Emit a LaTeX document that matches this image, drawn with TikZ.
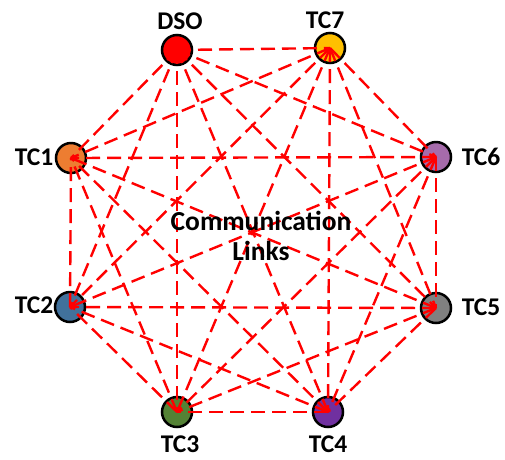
\documentclass[tikz,border=0pt]{standalone}
\usepackage{fontspec}
\setmainfont{Carlito}
\begin{document}
\begin{tikzpicture}[x=1pt,y=-1pt,
  agent/.style={circle, draw=black, line width=2.5pt, minimum size=30pt, inner sep=0pt},
  link/.style={draw=red, line width=2.4pt, dash pattern=on 14pt off 7pt},
  lbl/.style={font=\bfseries\fontsize{25.5}{28}\selectfont, text=black, inner sep=0pt}]
\useasboundingbox (0,0) rectangle (505,459);
% agents on the octagon
\node[agent, fill=red]                (dso) at (177,50) {};
\node[agent, fill={rgb,255:red,255;green,192;blue,0}]   (tc7) at (330,48) {};
\node[agent, fill={rgb,255:red,166;green,107;blue,171}] (tc6) at (436,157) {};
\node[agent, fill={rgb,255:red,128;green,128;blue,128}] (tc5) at (436,308) {};
\node[agent, fill={rgb,255:red,112;green,48;blue,160}]  (tc4) at (328,412) {};
\node[agent, fill={rgb,255:red,84;green,130;blue,53}]   (tc3) at (177,412) {};
\node[agent, fill={rgb,255:red,65;green,113;blue,156}]  (tc2) at (70,307) {};
\node[agent, fill={rgb,255:red,237;green,125;blue,49}]  (tc1) at (71,158) {};
% every agent linked to every other
\foreach \a [count=\i] in {dso,tc7,tc6,tc5,tc4,tc3,tc2,tc1}{
  \foreach \b [count=\j] in {dso,tc7,tc6,tc5,tc4,tc3,tc2,tc1}{
    \ifnum\j>\i \draw[link] (\a.center) -- (\b.center);\fi
  }
}
% labels
\node[lbl] (ldso) at (180,21) {DSO};
\node[lbl] (ltc7) at (325,20) {TC7};
\node[lbl] (ltc6) at (481,157) {TC6};
\node[lbl] (ltc5) at (481,307) {TC5};
\node[lbl] (ltc4) at (328,444) {TC4};
\node[lbl] (ltc3) at (180,444) {TC3};
\node[lbl] (ltc2) at (34,305) {TC2};
\node[lbl] (ltc1) at (34,157) {TC1};
\node[lbl, font=\bfseries\fontsize{27.5}{30}\selectfont, align=center] (comm) at (261,236) {Communication\\Links};
\end{tikzpicture}
\end{document}
